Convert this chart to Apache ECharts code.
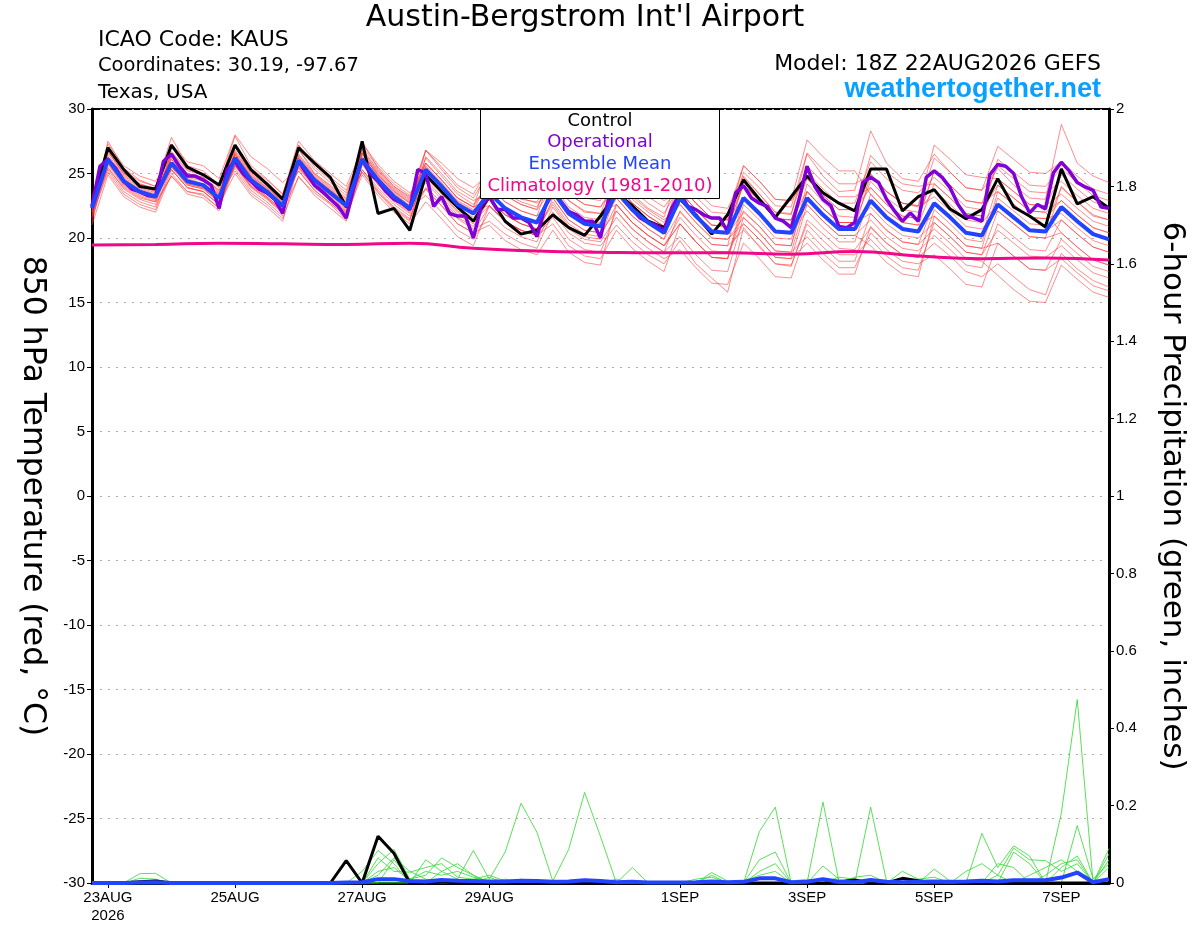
<!DOCTYPE html>
<html><head><meta charset="utf-8">
<script src="https://cdn.jsdelivr.net/npm/echarts@6/dist/echarts.min.js"></script>
<style>html,body{margin:0;padding:0;background:#fff}#c{width:1200px;height:927px}</style>
</head><body><div id="c"></div>
<script>
const FONT = '"Liberation Sans", Arial, Helvetica, sans-serif';
const FONT_W = '"DejaVu Sans", Verdana, sans-serif';

// time domain: hours since 22AUG2026 18Z
const hours6 = Array.from({length: 65}, (_, i) => i * 6);
const hours3 = Array.from({length: 129}, (_, i) => i * 3);
const hoursDaily = Array.from({length: 17}, (_, i) => i * 24);
const tickHours = [6, 54, 102, 150, 222, 270, 318, 366];
const tickLabels = ['23AUG\n2026', '25AUG', '27AUG', '29AUG', '1SEP', '3SEP', '5SEP', '7SEP'];

// 850 hPa temperature, ensemble members (red)
const member01 = [22.0, 27.5,25.4,24.5,24.0, 27.8,25.6,25.2,24.1, 27.9,25.6,24.6,23.4, 26.9,25.0,24.1,23.1, 27.5,25.4,24.0,23.2, 26.8,25.3,23.9,23.1, 25.2,23.8,23.0,22.8, 24.8,22.9,22.0,21.9, 25.0,23.4,22.3,21.6, 25.4,23.7,22.5,22.3, 24.8,23.4,22.0,21.8, 26.5,24.8,23.6,23.7, 28.3,25.8,24.6,24.4, 26.5,25.1,23.9,23.7, 25.4,24.1,23.1,23.0, 28.8,25.8,24.8,24.3];
const member02 = [21.5, 25.4,23.9,23.1,22.8, 24.8,23.6,23.4,22.3, 25.6,24.3,23.2,22.2, 24.7,23.5,22.6,21.4, 25.3,23.9,22.6,21.7, 23.9,22.8,21.5,20.7, 21.3,20.3,19.6,19.2, 22.0,20.4,19.6,19.4, 21.0,19.7,18.7,18.0, 19.8,18.0,16.9,15.8, 20.8,19.3,18.0,17.8, 21.4,20.3,19.2,19.1, 20.8,19.6,18.7,18.5, 19.6,18.6,17.4,17.0, 18.0,17.0,16.0,15.6, 18.8,17.6,16.7,16.2];
const member03 = [22.8, 26.8,24.9,24.1,23.6, 26.1,24.6,24.2,23.4, 27.2,25.3,24.3,23.2, 27.2,25.5,24.5,23.5, 26.6,24.8,23.5,22.5, 26.2,24.8,23.4,22.6, 24.1,22.8,22.1,21.7, 25.2,23.4,22.6,22.4, 24.5,23.0,22.0,21.2, 23.2,21.7,20.5,20.3, 22.0,20.9,19.5,19.4, 24.2,22.8,21.7,21.6, 25.0,23.6,22.7,22.4, 23.2,22.1,20.9,20.7, 22.1,21.1,20.1,20.0, 24.0,22.8,21.7,21.4];
const member04 = [23.0, 25.8,24.2,23.4,23.0, 26.3,24.8,24.5,23.5, 25.6,24.0,23.1,22.0, 26.3,24.8,23.8,22.8, 25.1,23.6,22.3,21.4, 25.5,24.2,22.8,22.1, 24.6,23.3,22.6,22.2, 23.8,22.1,21.3,21.1, 23.1,21.7,20.7,19.9, 22.0,20.7,19.5,19.4, 24.7,23.4,22.0,21.9, 25.6,24.3,23.2,23.2, 23.9,22.6,21.7,21.5, 25.2,24.1,22.9,22.7, 25.6,24.6,23.6,23.5, 24.4,23.3,22.3,21.9];
const member05 = [22.0, 26.3,24.7,23.9,23.5, 25.5,24.1,23.8,22.8, 26.4,24.7,23.8,22.7, 25.6,24.1,23.1,22.1, 26.7,25.1,23.8,22.9, 24.7,23.4,22.0,21.3, 22.5,21.3,20.6,20.2, 21.6,19.9,19.1,18.9, 22.1,20.7,19.7,18.9, 22.1,20.7,19.5,19.4, 20.6,19.4,18.0,17.9, 21.1,19.8,18.7,18.7, 19.9,18.6,17.7,17.5, 21.2,20.1,18.9,18.7, 20.6,19.6,18.6,18.5, 19.4,18.3,17.3,16.9];
const member06 = [21.8, 25.1,23.4,22.6,22.2, 25.3,23.9,23.6,22.6, 25.0,23.3,22.4,21.3, 25.7,24.2,23.2,22.2, 25.9,24.3,23.0,22.1, 26.8,25.5,24.1,23.4, 25.5,24.3,23.6,23.2, 26.1,24.4,23.6,23.4, 25.1,23.7,22.7,21.9, 24.1,22.7,21.5,21.4, 23.1,21.9,20.5,20.4, 22.1,20.8,19.7,19.7, 23.4,22.1,21.2,21.0, 21.7,20.6,19.4,19.2, 23.6,22.6,21.6,21.5, 22.9,21.8,20.8,20.4];
const member07 = [22.5, 26.9,25.2,24.4,24.0, 26.4,25.0,24.7,23.7, 25.8,24.1,23.2,22.1, 26.5,25.0,24.0,23.0, 27.3,25.7,24.4,23.5, 24.8,23.5,22.1,21.4, 24.0,22.8,22.1,21.7, 23.1,21.4,20.6,20.4, 24.1,22.7,21.7,20.9, 24.6,23.2,22.0,21.9, 25.6,24.4,23.0,22.9, 27.6,26.3,25.2,25.2, 23.4,22.1,21.2,21.0, 24.2,23.1,21.9,21.7, 26.1,25.1,24.1,24.0, 25.4,24.3,23.3,22.9];
const member08 = [22.2, 25.5,23.8,23.0,22.6, 24.8,23.4,23.1,22.1, 26.6,24.9,24.0,22.9, 25.4,23.9,22.9,21.9, 25.3,23.7,22.4,21.5, 23.8,22.5,21.1,20.4, 22.5,21.3,20.6,20.2, 24.1,22.4,21.6,21.4, 24.6,23.2,22.2,21.4, 22.6,21.2,20.0,19.9, 21.6,20.4,19.0,18.9, 20.1,18.8,17.7,17.7, 20.4,19.1,18.2,18.0, 18.7,17.6,16.4,16.2, 19.6,18.6,17.6,17.5, 19.9,18.8,17.8,17.4];
const member09 = [21.2, 26.2,24.5,23.7,23.3, 26.3,24.9,24.6,23.6, 25.4,23.7,22.8,21.7, 27.2,25.7,24.7,23.7, 26.6,25.0,23.7,22.8, 25.8,24.5,23.1,22.4, 23.0,21.8,21.1,20.7, 22.6,20.9,20.1,19.9, 23.6,22.2,21.2,20.4, 23.6,22.2,21.0,20.9, 24.1,22.9,21.5,21.4, 23.6,22.3,21.2,21.2, 24.4,23.1,22.2,22.0, 23.7,22.6,21.4,21.2, 22.6,21.6,20.6,20.5, 21.4,20.3,19.3,18.9];
const member10 = [22.6, 26.5,24.8,24.0,23.6, 25.6,24.2,23.9,22.9, 26.8,25.1,24.2,23.1, 25.2,23.7,22.7,21.7, 25.7,24.1,22.8,21.9, 24.5,23.2,21.8,21.1, 24.7,23.5,22.8,22.4, 24.6,22.9,22.1,21.9, 22.6,21.2,20.2,19.4, 21.1,19.7,18.5,18.4, 22.6,21.4,20.0,19.9, 23.6,22.3,21.2,21.2, 21.9,20.6,19.7,19.5, 22.7,21.6,20.4,20.2, 24.1,23.1,22.1,22.0, 20.4,19.3,18.3,17.9];
const member11 = [21.9, 25.8,24.1,23.3,22.9, 26.6,25.2,24.9,23.9, 26.2,24.5,23.6,22.5, 26.2,24.7,23.7,22.7, 26.8,25.2,23.9,23.0, 26.8,25.8,24.6,23.9, 25.0,23.8,23.1,22.7, 23.6,21.9,21.1,20.9, 25.6,24.2,23.2,22.4, 24.1,22.7,21.5,21.4, 24.1,22.9,21.5,21.4, 25.1,23.8,22.7,22.7, 25.9,24.6,23.7,23.5, 24.7,23.6,22.4,22.2, 24.1,23.1,22.1,22.0, 22.9,21.8,20.8,20.4];
const member12 = [22.4, 26.7,25.0,24.2,23.8, 25.3,23.9,23.6,22.6, 25.7,24.0,23.1,22.0, 25.5,24.0,23.0,22.0, 26.1,24.5,23.2,22.3, 23.3,22.0,20.6,19.9, 22.0,20.8,20.1,19.7, 22.4,20.7,19.9,19.7, 21.6,20.2,19.2,18.4, 19.1,17.7,16.5,16.4, 19.6,18.4,17.0,16.9, 20.6,19.3,18.2,18.2, 21.9,20.6,19.7,19.5, 20.7,19.6,18.4,18.2, 17.1,16.0,15.1,15.0, 17.9,16.8,15.8,15.4];
const member13 = [21.7, 26.1,24.4,23.6,23.2, 26.7,25.3,25.0,24.0, 26.5,24.8,23.9,22.8, 26.8,25.3,24.3,23.3, 25.8,24.2,22.9,22.0, 26.3,25.0,23.6,22.9, 23.5,22.3,21.6,21.2, 23.9,22.2,21.4,21.2, 24.1,22.7,21.7,20.9, 23.6,22.2,21.0,20.9, 25.1,23.9,22.5,22.4, 26.6,25.3,24.2,24.2, 24.9,23.6,22.7,22.5, 27.2,26.1,24.9,24.7, 24.6,23.6,22.6,22.5, 24.9,23.8,22.8,22.4];
const member14 = [22.3, 25.3,23.6,22.8,22.4, 25.5,24.1,23.8,22.8, 25.6,23.9,23.0,21.9, 25.8,24.3,23.3,22.3, 26.5,24.9,23.6,22.7, 25.0,23.7,22.3,21.6, 23.0,21.8,21.1,20.7, 22.8,21.1,20.3,20.1, 22.6,21.2,20.2,19.4, 21.6,20.2,19.0,18.9, 21.1,19.9,18.5,18.4, 22.6,21.3,20.2,20.2, 21.4,20.1,19.2,19.0, 20.2,19.1,17.9,17.7, 21.1,20.1,19.1,19.0, 21.4,20.3,19.3,18.9];
const member15 = [22.9, 26.3,24.6,23.8,23.4, 27.3,25.9,25.6,24.6, 28.0,26.3,25.4,24.3, 25.5,24.0,23.0,22.0, 26.3,24.7,23.4,22.5, 23.8,22.5,21.1,20.4, 21.0,19.8,19.1,18.7, 20.6,18.9,18.1,17.9, 22.6,21.2,20.2,19.4, 21.1,19.7,18.5,18.4, 23.1,21.9,20.5,20.4, 22.6,21.3,20.2,20.2, 19.4,18.1,17.2,17.0, 21.7,20.6,19.4,19.2, 19.6,18.6,17.6,17.5, 18.4,17.3,16.3,15.9];
const member16 = [21.6, 25.7,24.0,23.2,22.8, 25.6,24.2,23.9,22.9, 27.1,25.4,24.5,23.4, 27.5,26.0,25.0,24.0, 26.9,25.3,24.0,23.1, 25.8,24.5,23.1,22.4, 24.5,23.3,22.6,22.2, 25.6,23.9,23.1,22.9, 26.1,24.7,23.7,22.9, 23.6,22.2,21.0,20.9, 24.1,22.9,21.5,21.4, 24.6,23.3,22.2,22.2, 23.9,22.6,21.7,21.5, 25.2,24.1,22.9,22.7, 23.6,22.6,21.6,21.5, 21.9,20.8,19.8,19.4];
const member17 = [23.2, 26.7,25.0,24.2,23.8, 26.1,24.7,24.4,23.4, 25.2,23.5,22.6,21.5, 24.8,23.3,22.3,21.3, 26.5,24.9,23.6,22.7, 24.3,23.0,21.6,20.9, 23.0,21.8,21.1,20.7, 23.6,21.9,21.1,20.9, 23.1,21.7,20.7,19.9, 24.1,22.7,21.5,21.4, 25.6,24.4,23.0,22.9, 24.6,23.3,22.2,22.2, 26.4,25.1,24.2,24.0, 24.2,23.1,21.9,21.7, 24.6,23.6,22.6,22.5, 23.4,22.3,21.3,20.9];
const member18 = [21.0, 24.9,23.2,22.4,22.0, 25.0,23.6,23.3,22.3, 26.0,24.3,23.4,22.3, 26.4,24.9,23.9,22.9, 25.1,23.5,22.2,21.3, 25.6,24.3,22.9,22.2, 22.5,21.3,20.6,20.2, 21.1,19.4,18.6,18.4, 20.6,19.2,18.2,17.4, 21.1,19.7,18.5,18.4, 22.1,20.9,19.5,19.4, 23.6,22.3,21.2,21.2, 22.4,21.1,20.2,20.0, 21.2,20.1,18.9,18.7, 22.1,21.1,20.1,20.0, 20.4,19.3,18.3,17.9];
const member19 = [22.7, 27.3,25.6,24.8,24.4, 26.4,25.0,24.7,23.7, 26.5,24.8,23.9,22.8, 26.2,24.7,23.7,22.7, 27.1,25.5,24.2,23.3, 25.8,24.5,23.1,22.4, 26.0,24.8,24.1,23.7, 25.1,23.4,22.6,22.4, 24.1,22.7,21.7,20.9, 22.6,21.2,20.0,19.9, 21.1,19.9,18.5,18.4, 19.6,18.3,17.2,17.2, 20.9,19.6,18.7,18.5, 22.2,21.1,19.9,19.7, 23.1,22.1,21.1,21.0, 23.9,22.8,21.8,21.4];
const member20 = [22.1, 26.1,24.4,23.6,23.2, 25.3,23.9,23.6,22.6, 26.7,25.0,24.1,23.0, 25.2,23.7,22.7,21.7, 24.9,23.3,22.0,21.1, 22.8,21.5,20.1,19.4, 22.5,21.3,20.6,20.2, 23.1,21.4,20.6,20.4, 22.1,20.7,19.7,18.9, 20.1,18.7,17.5,17.4, 21.6,20.4,19.0,18.9, 23.1,21.8,20.7,20.7, 24.9,23.6,22.7,22.5, 26.2,25.1,23.9,23.7, 27.1,26.1,25.1,25.0, 25.9,24.8,23.8,23.4];
const tempMembers = [member01, member02, member03, member04, member05, member06, member07, member08, member09, member10,
  member11, member12, member13, member14, member15, member16, member17, member18, member19, member20];

// control (black), ensemble mean (blue): 6-hourly
const controlTemp = [22.5, 27.0,25.3,24.0,23.8, 27.2,25.5,24.9,24.1, 27.2,25.3,24.2,23.0, 27.0,25.8,24.7,22.4, 27.5,21.9,22.3,20.6, 24.9,23.6,22.4,21.3, 23.2,21.3,20.3,20.6, 21.8,20.8,20.2,21.7, 23.5,22.5,21.3,20.8, 23.0,21.8,20.3,21.8, 24.5,23.0,21.6,23.2, 24.8,23.5,22.7,22.1, 25.35,25.35,22.1,23.2, 23.75,22.25,21.5,22.2, 24.6,22.4,21.7,20.85, 25.35,22.65,23.2,22.3];
const meanTemp = [22.3, 26.1,24.4,23.6,23.2, 25.8,24.4,24.1,23.1, 26.2,24.5,23.6,22.5, 26.0,24.5,23.5,22.5, 26.1,24.5,23.2,22.3, 25.3,24.0,22.6,21.9, 23.5,22.3,21.6,21.2, 23.6,21.9,21.1,20.9, 23.6,22.2,21.2,20.4, 23.1,21.7,20.5,20.4, 23.1,21.9,20.5,20.4, 23.1,21.8,20.7,20.7, 22.9,21.6,20.7,20.5, 22.7,21.6,20.4,20.2, 22.6,21.6,20.6,20.5, 22.4,21.3,20.3,19.9];
// operational (purple): 3-hourly
const operTemp = [22.45,
  25.56,26.1,25.4,24.4,23.8,23.6,23.3,23.2,
  25.95,26.5,25.56,24.8,24.8,24.5,24.1,22.3,
  25.3,25.95,25.0,24.4,23.8,23.5,23.0,21.9,
  24.65,25.95,25.0,24.1,23.6,23.0,22.45,21.55,
  24.0,26.1,25.0,24.4,23.6,23.0,22.7,22.2,
  25.3,25.05,22.45,23.2,21.9,21.7,21.7,20.0,
  22.5,23.2,22.2,22.2,21.55,21.55,21.2,20.1,
  22.35,24.0,22.85,22.05,21.8,21.3,21.3,20.0,
  23.0,23.75,22.9,22.2,21.55,21.2,21.0,20.6,
  22.35,23.5,22.45,22.2,21.8,21.55,21.55,20.5,
  23.5,24.06,23.1,22.7,22.45,21.55,21.3,20.8,
  23.0,25.56,23.96,23.0,22.5,20.9,20.8,21.2,
  24.3,24.7,24.3,23.0,22.1,21.3,21.95,21.3,
  24.7,25.2,24.7,23.9,22.6,21.7,21.55,21.3,
  24.9,25.7,25.56,25.0,23.2,21.95,22.6,22.25,
  25.05,25.87,25.2,24.3,23.96,23.7,22.4,22.3];
// climatology (magenta): daily
const climTemp = [19.45,19.5,19.6,19.55,19.5,19.6,19.2,19.0,18.9,18.85,18.85,18.75,18.95,18.6,18.4,18.45,18.3];

// 6-hour precipitation (inches), members given as {stepIndex: value}, others zero
const precipMembersSparse = [
  {3:0.024, 4:0.025},
  {3:0.012, 4:0.01, 18:0.02, 19:0.065, 20:0.03, 21:0.01, 39:0.027, 40:0.005, 56:0.128, 57:0.04, 58:0.096, 59:0.07, 62:0.148, 63:0.01, 64:0.05},
  {17:0.03, 18:0.084, 19:0.05, 21:0.06, 22:0.03, 23:0.01, 24:0.084, 25:0.01, 26:0.08, 27:0.206, 28:0.131, 29:0.005, 30:0.087, 31:0.234, 32:0.12, 34:0.04, 42:0.133, 43:0.196, 46:0.01},
  {18:0.05, 19:0.087, 20:0.01, 21:0.02, 22:0.065, 23:0.04, 24:0.02, 26:0.01, 31:0.01, 39:0.02, 42:0.06, 43:0.08, 46:0.209, 47:0.005, 53:0.036, 54:0.005, 61:0.18, 62:0.474, 64:0.089},
  {18:0.065, 19:0.03, 20:0.028, 21:0.04, 22:0.05, 23:0.015, 24:0.01, 25:0.02, 26:0.005, 41:0.005, 42:0.02, 43:0.03, 46:0.044, 47:0.01, 49:0.196, 50:0.005, 57:0.02, 58:0.09, 59:0.06, 60:0.058, 61:0.03, 62:0.05, 64:0.04},
  {19:0.06, 20:0.01, 21:0.03, 22:0.02, 23:0.03, 24:0.015, 25:0.005, 27:0.01, 38:0.01, 39:0.015, 48:0.015, 49:0.02, 55:0.03, 56:0.05, 57:0.02, 59:0.02, 60:0.04, 61:0.06, 62:0.03, 64:0.06},
  {22:0.03, 23:0.05, 24:0.02, 30:0.005, 33:0.01, 44:0.005, 45:0.01, 51:0.03, 52:0.01, 53:0.015, 57:0.05, 58:0.04, 60:0.02, 61:0.05, 62:0.06, 64:0.075},
  {18:0.03, 19:0.04, 20:0.005, 22:0.01, 25:0.015, 42:0.03, 43:0.05, 47:0.015, 48:0.01, 58:0.08, 59:0.05, 61:0.04, 62:0.07}
];
const controlPrecipSparse = {3:0.003, 4:0.005, 16:0.058, 18:0.121, 19:0.077, 22:0.004, 47:0.003, 48:0.008, 51:0.012, 52:0.006, 54:0.003};
const meanPrecip = [0,0,0,0.001,0.002, 0,0,0,0, 0,0,0,0, 0,0,0,0.001, 0.002,0.01,0.01,0.005, 0.004,0.008,0.006,0.005, 0.004,0.004,0.006,0.005, 0.003,0.004,0.007,0.005, 0.002,0.003,0.001,0.001, 0.001,0.002,0.004,0.002, 0.003,0.012,0.012,0.002, 0.003,0.01,0.003,0.002, 0.008,0.003,0.002,0.003, 0.004,0.003,0.004,0.006, 0.004,0.007,0.007,0.007, 0.014,0.027,0.002,0.01];

function fromSparse(obj) {
  const a = new Array(65).fill(0);
  Object.keys(obj).forEach(k => { a[+k] = obj[k]; });
  return a;
}
function pts(hrs, vals) { return vals.map((v, i) => [hrs[i], v]); }

const series = [];
tempMembers.forEach(m => series.push({
  type: 'line', data: pts(hours6, m), yAxisIndex: 0, symbol: 'none', silent: true,
  lineStyle: {color: 'rgba(255,50,50,0.7)', width: 0.8}
}));
precipMembersSparse.forEach(m => series.push({
  type: 'line', data: pts(hours6, fromSparse(m)), yAxisIndex: 1, symbol: 'none', silent: true,
  lineStyle: {color: '#2fd82f', width: 0.8}
}));
series.push({type: 'line', data: pts(hours6, controlTemp), yAxisIndex: 0, symbol: 'none', lineStyle: {color: '#000', width: 3}});
series.push({type: 'line', data: pts(hours3, operTemp), yAxisIndex: 0, symbol: 'none', lineStyle: {color: '#8000d8', width: 3.5}});
series.push({type: 'line', data: pts(hours6, meanTemp), yAxisIndex: 0, symbol: 'none', lineStyle: {color: '#2244ff', width: 4}});
series.push({type: 'line', data: pts(hoursDaily, climTemp), yAxisIndex: 0, symbol: 'none', smooth: true, lineStyle: {color: '#f0088a', width: 3}});
series.push({type: 'line', data: pts(hours6, fromSparse(controlPrecipSparse)), yAxisIndex: 1, symbol: 'none', lineStyle: {color: '#000', width: 3}});
series.push({type: 'line', data: pts(hours6, meanPrecip), yAxisIndex: 1, symbol: 'none', lineStyle: {color: '#2244ff', width: 4}});

function txt(x, y, text, size, color, align, font, extra) {
  return {
    type: 'text', x: x, y: y, z: 110,
    style: Object.assign({text: text, fontSize: size, fontFamily: font || FONT_W, fill: color,
      align: align, textAlign: align, verticalAlign: 'middle', textVerticalAlign: 'middle'}, extra || {})
  };
}

const chart = echarts.init(document.getElementById('c'), null, {renderer: 'canvas'});
chart.setOption({
  animation: false,
  backgroundColor: '#fff',
  grid: {left: 92, right: 91, top: 109, bottom: 44, show: true, borderColor: '#000', borderWidth: 2, backgroundColor: 'transparent'},
  xAxis: {
    type: 'value', min: 0, max: 384,
    axisLine: {show: true, onZero: false, lineStyle: {color: '#000', width: 3}},
    axisTick: {show: true, customValues: tickHours, length: 5, lineStyle: {color: '#000', width: 1}},
    axisLabel: {show: true, customValues: tickHours, color: '#000', fontSize: 15, fontFamily: FONT, margin: 6, lineHeight: 18,
      formatter: v => { const k = tickHours.indexOf(v); return k >= 0 ? tickLabels[k] : ''; }},
    splitLine: {show: false}
  },
  yAxis: [
    {type: 'value', min: -30, max: 30, interval: 5, position: 'left',
      axisLine: {show: true, onZero: false, lineStyle: {color: '#000', width: 3}},
      axisTick: {show: true, length: 5, lineStyle: {color: '#000', width: 1}},
      axisLabel: {color: '#000', fontSize: 15, fontFamily: FONT, margin: 7},
      splitLine: {show: true, lineStyle: {color: '#aaaaaa', width: 1.2, type: [2, 6]}}},
    {type: 'value', min: 0, max: 2, interval: 0.2, position: 'right',
      axisLine: {show: true, onZero: false, lineStyle: {color: '#000', width: 3}},
      axisTick: {show: true, length: 5, lineStyle: {color: '#000', width: 1}},
      axisLabel: {color: '#000', fontSize: 15, fontFamily: FONT, margin: 7, formatter: v => String(+v.toFixed(1))},
      splitLine: {show: false}}
  ],
  graphic: [
    txt(585, 18, "Austin-Bergstrom Int'l Airport", 30, '#000', 'center'),
    txt(98, 40, 'ICAO Code: KAUS', 22, '#000', 'left'),
    txt(98, 66, 'Coordinates: 30.19, -97.67', 19.5, '#000', 'left'),
    txt(98, 93, 'Texas, USA', 20, '#000', 'left'),
    txt(1101, 64, 'Model: 18Z 22AUG2026 GEFS', 22, '#000', 'right'),
    txt(1101, 90, 'weathertogether.net', 27, '#0aa0ff', 'right', FONT, {fontWeight: 'bold'}),
    Object.assign(txt(32, 496, '850 hPa Temperature (red, \u00B0C)', 31.5, '#000', 'center'), {rotation: -Math.PI / 2}),
    Object.assign(txt(1172, 496, '6-hour Precipitation (green, inches)', 31, '#000', 'center'), {rotation: -Math.PI / 2}),
    {type: 'rect', z: 100, shape: {x: 480.5, y: 109.5, width: 239, height: 89}, style: {fill: '#fff', stroke: '#000', lineWidth: 1}},
    txt(600, 121, 'Control', 18, '#000', 'center'),
    txt(600, 142, 'Operational', 18, '#8000d8', 'center'),
    txt(600, 164, 'Ensemble Mean', 18, '#2244ff', 'center'),
    txt(600, 186, 'Climatology (1981-2010)', 18, '#f0088a', 'center')
  ],
  series: series
});
</script>
</body></html>
